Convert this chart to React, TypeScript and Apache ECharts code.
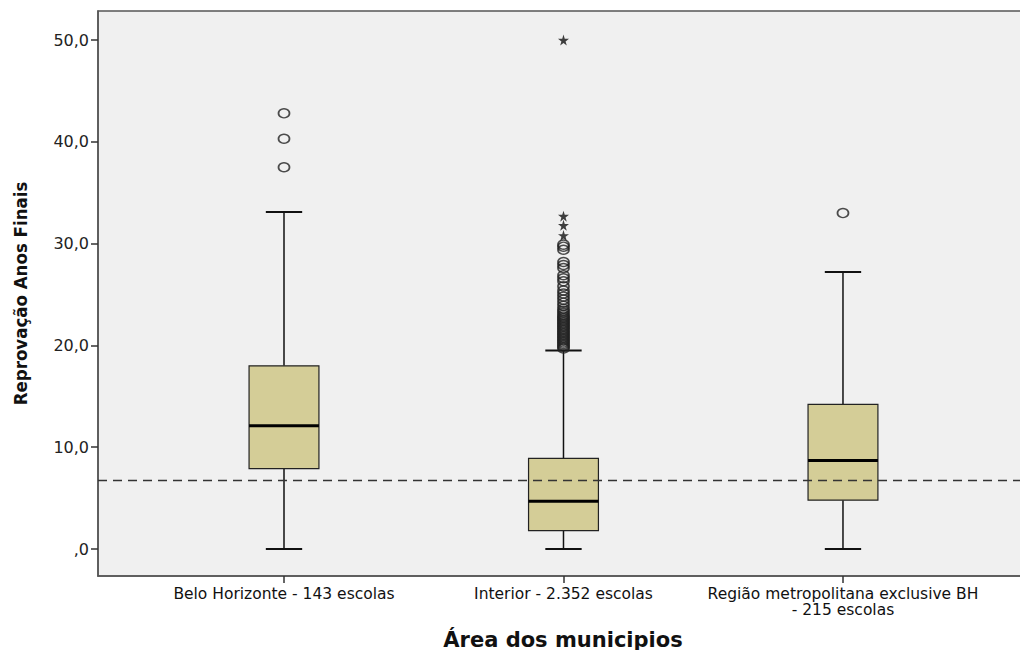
import React, { useEffect, useRef } from "react";
import * as echarts from "echarts";

const categories = [
  "Belo Horizonte - 143 escolas",
  "Interior - 2.352 escolas",
  "Região metropolitana exclusive BH\n- 215 escolas",
];
const whiskerLow = [0, 0, 0];
const q1 = [7.9, 1.8, 4.8];
const medians = [12.1, 4.7, 8.7];
const q3 = [18.0, 8.9, 14.2];
const whiskerHigh = [33.1, 19.5, 27.2];

const outliersBH = [37.5, 40.3, 42.8];
const outliersInterior = [
  19.7, 19.85, 20.0, 20.15, 20.3, 20.45, 20.6, 20.75, 20.9, 21.05, 21.2, 21.35,
  21.5, 21.65, 21.8, 21.95, 22.1, 22.25, 22.4, 22.55, 22.7, 22.85, 23.0, 23.2,
  23.4, 23.6, 23.9, 24.2, 24.5, 24.8, 25.1, 25.4, 25.8, 26.3, 26.6, 26.9,
  27.6, 27.9, 28.2, 29.4, 29.7, 29.9,
];
const extremesInterior = [30.8, 31.8, 32.7, 50.0];
const outliersRegiao = [33.0];
const referenceLine = 6.8;

const yTicks = [0, 10, 20, 30, 40, 50];

const WIDE = "'DejaVu Sans', Verdana, sans-serif";
const NARROW = "'Liberation Sans Narrow', 'DejaVu Sans Condensed', 'Liberation Sans', Arial, sans-serif";
const STAR =
  "path://M50,0 L61,35 L98,35 L68,57 L79,91 L50,70 L21,91 L32,57 L2,35 L39,35 Z";

export default function App() {
  const ref = useRef<HTMLDivElement>(null);
  useEffect(() => {
    if (!ref.current) return;
    const chart = echarts.init(ref.current, null, { renderer: "svg" });

    const boxData = categories.map((_, i) => [
      i + 1,
      whiskerLow[i],
      q1[i],
      medians[i],
      q3[i],
      whiskerHigh[i],
    ]);
    const circleData = [
      ...outliersBH.map((v) => [1, v]),
      ...outliersInterior.map((v) => [2, v]),
      ...outliersRegiao.map((v) => [3, v]),
    ];
    const starData = extremesInterior.map((v) => [2, v]);

    chart.setOption({
      animation: false,
      backgroundColor: "#ffffff",
      grid: {
        left: 98,
        top: 11,
        width: 930,
        height: 565,
        show: true,
        backgroundColor: "#f0f0f0",
        borderColor: "#555",
        borderWidth: 1.5,
        outerBoundsMode: "none",
        containLabel: false,
      },
      xAxis: {
        type: "value",
        min: 0.3345,
        max: 3.662,
        splitLine: { show: false },
        axisLine: { show: true, onZero: false, lineStyle: { color: "#555", width: 1.5 } },
        axisTick: {
          show: true,
          customValues: [1, 2, 3],
          length: 7,
          lineStyle: { color: "#333", width: 1.5 },
        },
        axisLabel: {
          customValues: [1, 2, 3],
          formatter: (v: number) => categories[Math.round(v) - 1] ?? "",
          color: "#111",
          fontFamily: WIDE,
          fontSize: 15.5,
          lineHeight: 16,
          margin: 10,
          verticalAlign: "top",
        },
        name: "Área dos municipios",
        nameLocation: "middle",
        nameGap: 53,
        nameTextStyle: {
          color: "#111",
          fontFamily: WIDE,
          fontWeight: "bold",
          fontSize: 21,
        },
      },
      yAxis: {
        type: "value",
        min: -2.65,
        max: 52.85,
        splitLine: { show: false },
        axisLine: { show: true, onZero: false, lineStyle: { color: "#555", width: 1.5 } },
        axisTick: {
          show: true,
          customValues: yTicks,
          length: 7,
          lineStyle: { color: "#333", width: 1.5 },
        },
        axisLabel: {
          customValues: yTicks,
          formatter: (v: number) =>
            v === 0 ? ",0" : v.toFixed(1).replace(".", ","),
          color: "#222",
          fontFamily: WIDE,
          fontSize: 16,
          margin: 9,
        },
        name: "Reprovação Anos Finais",
        nameLocation: "middle",
        nameRotate: 90,
        nameGap: 68,
        nameTextStyle: {
          color: "#111",
          fontFamily: NARROW,
          fontWeight: "bold",
          fontSize: 18.5,
        },
      },
      series: [
        {
          type: "custom",
          data: boxData,
          encode: { x: 0, y: [1, 2, 3, 4, 5] },
          z: 2,
          renderItem: (params: any, api: any) => {
            const x = api.value(0);
            const lo = api.coord([x, api.value(1)]);
            const b1 = api.coord([x, api.value(2)]);
            const md = api.coord([x, api.value(3)]);
            const b3 = api.coord([x, api.value(4)]);
            const hi = api.coord([x, api.value(5)]);
            const bw = api.size([0.25, 0])[0];
            const cw = api.size([0.13, 0])[0];
            const cx = lo[0];
            const stroke = { stroke: "#111", lineWidth: 1.5 };
            return {
              type: "group",
              children: [
                {
                  type: "line",
                  shape: { x1: cx, y1: hi[1], x2: cx, y2: b3[1] },
                  style: stroke,
                },
                {
                  type: "line",
                  shape: { x1: cx, y1: b1[1], x2: cx, y2: lo[1] },
                  style: stroke,
                },
                {
                  type: "line",
                  shape: { x1: cx - cw / 2, y1: hi[1], x2: cx + cw / 2, y2: hi[1] },
                  style: { stroke: "#111", lineWidth: 2 },
                },
                {
                  type: "line",
                  shape: { x1: cx - cw / 2, y1: lo[1], x2: cx + cw / 2, y2: lo[1] },
                  style: { stroke: "#111", lineWidth: 2 },
                },
                {
                  type: "rect",
                  shape: { x: cx - bw / 2, y: b3[1], width: bw, height: b1[1] - b3[1] },
                  style: { fill: "#d4cd97", stroke: "#222", lineWidth: 1.2 },
                },
                {
                  type: "line",
                  shape: { x1: cx - bw / 2, y1: md[1], x2: cx + bw / 2, y2: md[1] },
                  style: { stroke: "#000", lineWidth: 3 },
                },
              ],
            };
          },
        },
        {
          type: "scatter",
          data: circleData,
          symbol: "circle",
          symbolSize: [11, 9],
          z: 3,
          itemStyle: { color: "transparent", borderColor: "#222", borderWidth: 1.6 },
          markLine: {
            silent: true,
            symbol: "none",
            label: { show: false },
            lineStyle: { color: "#333", type: [9, 6], width: 1.3 },
            data: [{ yAxis: referenceLine }],
          },
        },
        {
          type: "scatter",
          data: starData,
          symbol: STAR,
          symbolSize: 11,
          z: 3,
          itemStyle: { color: "#111" },
        },
      ],
    });
    return () => chart.dispose();
  }, []);

  return (
    <div
      ref={ref}
      style={{ position: "absolute", left: 0, top: 0, width: 1020, height: 650 }}
    />
  );
}
